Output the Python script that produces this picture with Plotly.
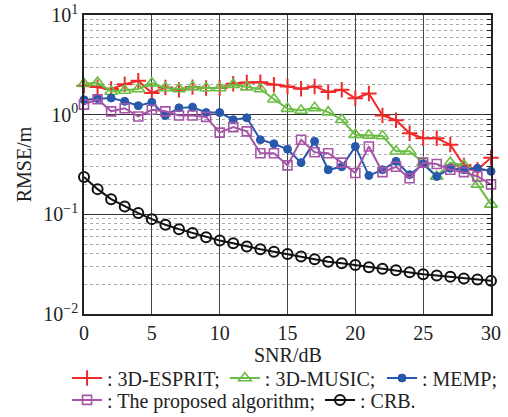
import plotly.graph_objects as go

snr = list(range(0, 31))

esprit = [1.95, 1.89, 1.81, 2.02, 2.19, 1.65, 1.87, 1.78, 1.89, 1.85, 1.85,
          2.04, 2.10, 2.12, 2.00, 1.92, 1.82, 1.92, 1.69, 1.78, 1.46,
          1.63, 0.98, 0.88, 0.65, 0.58, 0.58, 0.50, 0.31, 0.28, 0.37]
music = [2.04, 2.10, 1.71, 1.75, 1.81, 2.07, 1.85, 1.81, 1.89, 1.85, 1.85,
         2.00, 1.89, 1.81, 1.43, 1.15, 1.10, 1.17, 1.06, 0.89, 0.63,
         0.62, 0.61, 0.43, 0.43, 0.33, 0.24, 0.33, 0.31, 0.20, 0.126]
memp = [1.41, 1.45, 1.47, 1.36, 1.23, 1.33, 0.98, 1.17, 1.19, 1.05, 1.05,
        0.89, 0.93, 0.56, 0.51, 0.45, 0.33, 0.54, 0.28, 0.30, 0.48,
        0.245, 0.28, 0.34, 0.25, 0.32, 0.24, 0.29, 0.28, 0.29, 0.27]
proposed = [1.26, 1.43, 1.08, 1.16, 0.96, 1.12, 1.08, 0.98, 0.98, 0.95, 0.66,
            0.75, 0.68, 0.41, 0.41, 0.31, 0.56, 0.42, 0.41, 0.33, 0.26,
            0.48, 0.265, 0.30, 0.23, 0.33, 0.32, 0.28, 0.265, 0.24, 0.20]
crb = [0.237, 0.179, 0.142, 0.120, 0.103, 0.0895, 0.0785, 0.071, 0.0648, 0.059, 0.0546,
       0.0513, 0.0475, 0.0447, 0.0422, 0.0399, 0.0377, 0.0354, 0.0335, 0.0323, 0.031,
       0.0294, 0.0284, 0.0275, 0.0263, 0.0251, 0.0244, 0.0236, 0.0227, 0.0222, 0.0215]

names = [": 3D-ESPRIT;", ": 3D-MUSIC;", ": MEMP;", ": The proposed algorithm;", ": CRB."]
legend_ids = ["legend", "legend", "legend3", "legend2", "legend2"]
x_title = "SNR/dB"
y_title = "RMSE/m"
x_ticks = [0, 5, 10, 15, 20, 25, 30]
y_ticks = [0.01, 0.1, 1, 10]
y_ticktext = ["10<sup>−2</sup>", "10<sup>−1</sup>", "10<sup>0</sup>", "10<sup>1</sup>"]
minor_vals = [m * d for d in (0.01, 0.1, 1) for m in range(2, 10)]

FONT = "Liberation Serif, Times New Roman, serif"

fig = go.Figure()
styles = [
    (esprit, "#ee2b2b", dict(symbol="cross-thin", size=11, line=dict(width=2, color="#ee2b2b"))),
    (music, "#6cbd45", dict(symbol="triangle-up-open", size=11, line=dict(width=1.6, color="#6cbd45"))),
    (memp, "#2758ac", dict(symbol="circle", size=8, color="#2758ac", line=dict(width=1, color="#2758ac"))),
    (proposed, "#a654a8", dict(symbol="square-open", size=9, line=dict(width=1.6, color="#a654a8"))),
    (crb, "#111111", dict(symbol="circle-open", size=10, line=dict(width=2, color="#111111"))),
]
for (vals, col, mk), nm, lg in zip(styles, names, legend_ids):
    fig.add_trace(go.Scatter(
        x=snr, y=vals, name=nm, mode="lines+markers", legend=lg,
        line=dict(color=col, width=2), marker=mk, cliponaxis=False,
    ))

# invisible trace to display right-side tick axis
fig.add_trace(go.Scatter(x=[snr[0]], y=[crb[0]], yaxis="y2", mode="markers",
                         marker=dict(opacity=0), showlegend=False, hoverinfo="skip"))

leg_common = dict(
    orientation="h", xanchor="left", yanchor="middle", xref="container", yref="container",
    font=dict(family=FONT, size=20, color="#222"),
    itemwidth=30, bgcolor="rgba(0,0,0,0)", traceorder="normal",
)

fig.update_layout(
    width=508, height=417, autosize=False,
    margin=dict(l=84, r=17, t=15, b=103),
    paper_bgcolor="white", plot_bgcolor="white",
    font=dict(family=FONT, size=20, color="#222"),
    xaxis=dict(
        range=[0, 30], tickvals=x_ticks, ticks="",
        showgrid=True, gridcolor="#444", gridwidth=1,
        showline=True, linecolor="#222", linewidth=1.5, mirror=True,
        zeroline=False, automargin=False,
        tickfont=dict(size=20),
    ),
    yaxis=dict(
        type="log", range=[-2, 1], tickvals=y_ticks, ticktext=y_ticktext, ticks="",
        showgrid=True, gridcolor="#333", gridwidth=1.3,
        showline=True, linecolor="#222", linewidth=1.5, mirror=True,
        zeroline=False, automargin=False,
        minor=dict(tickmode="array", tickvals=minor_vals, showgrid=True,
                   gridcolor="#aaa", griddash="dot", gridwidth=1, ticks=""),
        title=dict(text=y_title, standoff=6, font=dict(size=20)),
        tickfont=dict(size=20),
    ),
    yaxis2=dict(
        type="log", range=[-2, 1], overlaying="y", side="right",
        showticklabels=False, showgrid=False, tickvals=y_ticks,
        ticks="inside", ticklen=6, tickcolor="#222",
        minor=dict(tickmode="array", tickvals=minor_vals, ticks="inside",
                   ticklen=4, tickcolor="#222", showgrid=False),
        showline=False, zeroline=False, automargin=False,
    ),
    annotations=[dict(text=x_title, xref="paper", yref="paper", x=0.5, y=-0.136,
                      xanchor="center", yanchor="middle", showarrow=False,
                      font=dict(family=FONT, size=20, color="#222"))],
    legend=dict(x=0.132, y=0.0935, **leg_common),
    legend3=dict(x=0.752, y=0.0935, **leg_common),
    legend2=dict(x=0.132, y=0.041, **leg_common),
    showlegend=True,
)

fig.write_html("out.html", config={"displayModeBar": False},
               post_script="document.body.style.margin='0';document.body.style.overflow='hidden';")
